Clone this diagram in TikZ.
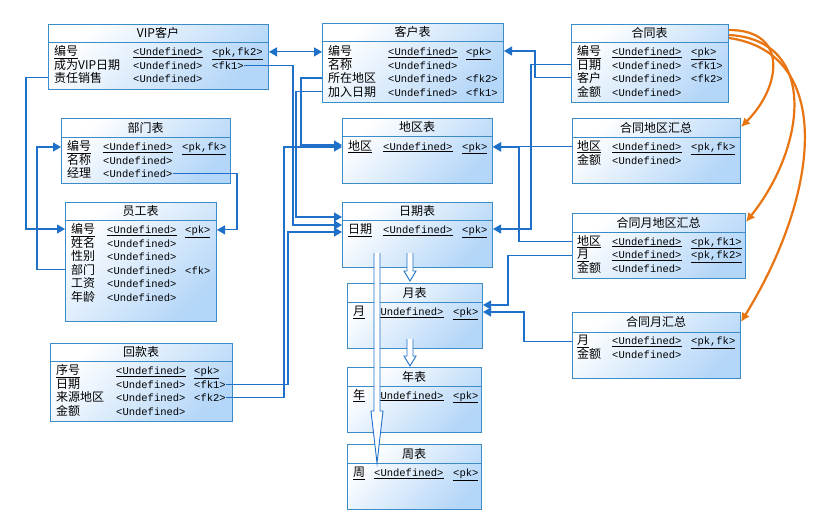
\documentclass[tikz,border=0pt]{standalone}
\usepackage{fontspec}
\setmonofont{Liberation Mono}
\newfontfamily\cjk{Noto Sans CJK SC}
\usetikzlibrary{arrows.meta,calc}
\definecolor{boxline}{RGB}{60,140,200}
\definecolor{boxfill}{RGB}{180,214,248}
\definecolor{linkblue}{RGB}{30,112,200}
\definecolor{linkorange}{RGB}{232,116,18}
\tikzstyle{tbl}=[draw=boxline,line width=1pt,top color=white,bottom color=boxfill,shading angle=45,anchor=north west,inner sep=0pt]
\tikzstyle{ttl}=[inner sep=0pt,font=\cjk\fontsize{12}{14}\selectfont]
\tikzstyle{fname}=[anchor=base west,inner sep=0pt,font=\cjk\fontsize{12}{14}\selectfont]
\tikzstyle{ftype}=[anchor=base west,inner sep=0pt,font=\ttfamily\fontsize{10.5}{12}\selectfont]
\tikzstyle{sepline}=[draw=boxline,line width=1pt]
\tikzstyle{fk}=[draw=linkblue,line width=1.1pt,-{Triangle[length=8pt,width=9pt]}]
\tikzstyle{sub}=[draw=linkorange,line width=2.2pt,-{Latex[length=9pt,width=9pt]}]
\tikzstyle{gen}=[draw=linkblue,line width=0.9pt,fill=white]
\newcommand{\inharrow}[3]{%
  \draw[gen] ([xshift=-3pt]#1) -- ([xshift=-3pt,yshift=#3]#2) -- ([xshift=-6pt,yshift=#3]#2) -- (#2)
    -- ([xshift=6pt,yshift=#3]#2) -- ([xshift=3pt,yshift=#3]#2) -- ([xshift=3pt]#1);}

\begin{document}
\begin{tikzpicture}[x=1pt,y=-1pt]
\useasboundingbox (0,0) rectangle (828,523);

% VIP customers
\node[tbl,minimum width=220,minimum height=65] (vip) at (48,24) {};
\draw[sepline] ([yshift=-18pt]vip.north west) -- ([yshift=-18pt]vip.north east);
\node[ttl] (vipt) at (158,33) {VIP客户};
\node[fname] (vipa1) at (54,55.5) {\underline{编号}};
\node[ftype] (vipb1) at (133,55.5) {\underline{<Undefined>}};
\node[ftype] (vipc1) at (212,55.5) {\underline{<pk,fk2>}};
\node[fname] (vipa2) at (54,69) {成为VIP日期};
\node[ftype] (vipb2) at (133,69) {<Undefined>};
\node[ftype] (vipc2) at (212,69) {<fk1>};
\node[fname] (vipa3) at (54,82.5) {责任销售};
\node[ftype] (vipb3) at (133,82.5) {<Undefined>};

% customers
\node[tbl,minimum width=181,minimum height=79] (cus) at (322,23) {};
\draw[sepline] ([yshift=-18pt]cus.north west) -- ([yshift=-18pt]cus.north east);
\node[ttl] (cust) at (412.5,32) {客户表};
\node[fname] (cusa1) at (328,55.5) {\underline{编号}};
\node[ftype] (cusb1) at (388,55.5) {\underline{<Undefined>}};
\node[ftype] (cusc1) at (466,55.5) {\underline{<pk>}};
\node[fname] (cusa2) at (328,69) {名称};
\node[ftype] (cusb2) at (388,69) {<Undefined>};
\node[fname] (cusa3) at (328,82.5) {所在地区};
\node[ftype] (cusb3) at (388,82.5) {<Undefined>};
\node[ftype] (cusc3) at (466,82.5) {<fk2>};
\node[fname] (cusa4) at (328,96) {加入日期};
\node[ftype] (cusb4) at (388,96) {<Undefined>};
\node[ftype] (cusc4) at (466,96) {<fk1>};

% contracts
\node[tbl,minimum width=157,minimum height=78] (con) at (571,24) {};
\draw[sepline] ([yshift=-18pt]con.north west) -- ([yshift=-18pt]con.north east);
\node[ttl] (cont) at (649.5,33) {合同表};
\node[fname] (cona1) at (577,55.5) {\underline{编号}};
\node[ftype] (conb1) at (612,55.5) {\underline{<Undefined>}};
\node[ftype] (conc1) at (691,55.5) {\underline{<pk>}};
\node[fname] (cona2) at (577,69) {日期};
\node[ftype] (conb2) at (612,69) {<Undefined>};
\node[ftype] (conc2) at (691,69) {<fk1>};
\node[fname] (cona3) at (577,82.5) {客户};
\node[ftype] (conb3) at (612,82.5) {<Undefined>};
\node[ftype] (conc3) at (691,82.5) {<fk2>};
\node[fname] (cona4) at (577,96) {金额};
\node[ftype] (conb4) at (612,96) {<Undefined>};

% departments
\node[tbl,minimum width=169,minimum height=65] (dep) at (61,118) {};
\draw[sepline] ([yshift=-19pt]dep.north west) -- ([yshift=-19pt]dep.north east);
\node[ttl] (dept) at (145.5,127.5) {部门表};
\node[fname] (depa1) at (67,150.5) {\underline{编号}};
\node[ftype] (depb1) at (103,150.5) {\underline{<Undefined>}};
\node[ftype] (depc1) at (182,150.5) {\underline{<pk,fk>}};
\node[fname] (depa2) at (67,164) {名称};
\node[ftype] (depb2) at (103,164) {<Undefined>};
\node[fname] (depa3) at (67,177.5) {经理};
\node[ftype] (depb3) at (103,177.5) {<Undefined>};

% employees
\node[tbl,minimum width=151,minimum height=119] (emp) at (65,202) {};
\draw[sepline] ([yshift=-18pt]emp.north west) -- ([yshift=-18pt]emp.north east);
\node[ttl] (empt) at (140.5,211) {员工表};
\node[fname] (empa1) at (71,233.5) {\underline{编号}};
\node[ftype] (empb1) at (107,233.5) {\underline{<Undefined>}};
\node[ftype] (empc1) at (185,233.5) {\underline{<pk>}};
\node[fname] (empa2) at (71,247) {姓名};
\node[ftype] (empb2) at (107,247) {<Undefined>};
\node[fname] (empa3) at (71,260.5) {性别};
\node[ftype] (empb3) at (107,260.5) {<Undefined>};
\node[fname] (empa4) at (71,274) {部门};
\node[ftype] (empb4) at (107,274) {<Undefined>};
\node[ftype] (empc4) at (185,274) {<fk>};
\node[fname] (empa5) at (71,287.5) {工资};
\node[ftype] (empb5) at (107,287.5) {<Undefined>};
\node[fname] (empa6) at (71,301) {年龄};
\node[ftype] (empb6) at (107,301) {<Undefined>};

% regions
\node[tbl,minimum width=150,minimum height=65] (reg) at (342,118) {};
\draw[sepline] ([yshift=-18pt]reg.north west) -- ([yshift=-18pt]reg.north east);
\node[ttl] (regt) at (417,127) {地区表};
\node[fname] (rega1) at (348,150) {\underline{地区}};
\node[ftype] (regb1) at (383,150) {\underline{<Undefined>}};
\node[ftype] (regc1) at (462,150) {\underline{<pk>}};

% dates
\node[tbl,minimum width=150,minimum height=65] (day) at (342,202) {};
\draw[sepline] ([yshift=-18pt]day.north west) -- ([yshift=-18pt]day.north east);
\node[ttl] (dayt) at (417,211) {日期表};
\node[fname] (daya1) at (348,233.5) {\underline{日期}};
\node[ftype] (dayb1) at (383,233.5) {\underline{<Undefined>}};
\node[ftype] (dayc1) at (462,233.5) {\underline{<pk>}};

% months, years, weeks
\node[tbl,minimum width=135,minimum height=65] (mon) at (347,283) {};
\draw[sepline] ([yshift=-19pt]mon.north west) -- ([yshift=-19pt]mon.north east);
\node[ttl] (mont) at (414.5,292.5) {月表};
\node[fname] (mona1) at (353,315.5) {\underline{月}};
\node[ftype] (monb1) at (374,315.5) {\underline{<Undefined>}};
\node[ftype] (monc1) at (453,315.5) {\underline{<pk>}};

\node[tbl,minimum width=134,minimum height=65] (yr) at (347,367) {};
\draw[sepline] ([yshift=-19pt]yr.north west) -- ([yshift=-19pt]yr.north east);
\node[ttl] (yrt) at (414,376.5) {年表};
\node[fname] (yra1) at (353,399) {\underline{年}};
\node[ftype] (yrb1) at (374,399) {\underline{<Undefined>}};
\node[ftype] (yrc1) at (453,399) {\underline{<pk>}};

\node[tbl,minimum width=134,minimum height=65] (wk) at (347,444) {};
\draw[sepline] ([yshift=-19pt]wk.north west) -- ([yshift=-19pt]wk.north east);
\node[ttl] (wkt) at (414,453.5) {周表};
\node[fname] (wka1) at (353,476.5) {\underline{周}};
\node[ftype] (wkb1) at (374,476.5) {\underline{<Undefined>}};
\node[ftype] (wkc1) at (453,476.5) {\underline{<pk>}};

% payments
\node[tbl,minimum width=182,minimum height=78] (pay) at (50,343) {};
\draw[sepline] ([yshift=-18pt]pay.north west) -- ([yshift=-18pt]pay.north east);
\node[ttl] (payt) at (141,352) {回款表};
\node[fname] (paya1) at (56,374.5) {\underline{序号}};
\node[ftype] (payb1) at (116,374.5) {\underline{<Undefined>}};
\node[ftype] (payc1) at (194,374.5) {\underline{<pk>}};
\node[fname] (paya2) at (56,388) {日期};
\node[ftype] (payb2) at (116,388) {<Undefined>};
\node[ftype] (payc2) at (194,388) {<fk1>};
\node[fname] (paya3) at (56,401.5) {来源地区};
\node[ftype] (payb3) at (116,401.5) {<Undefined>};
\node[ftype] (payc3) at (194,401.5) {<fk2>};
\node[fname] (paya4) at (56,415) {金额};
\node[ftype] (payb4) at (116,415) {<Undefined>};

% contract summaries
\node[tbl,minimum width=168,minimum height=65] (cra) at (572,118) {};
\draw[sepline] ([yshift=-19pt]cra.north west) -- ([yshift=-19pt]cra.north east);
\node[ttl] (crat) at (656,127.5) {合同地区汇总};
\node[fname] (craa1) at (577,150.5) {\underline{地区}};
\node[ftype] (crab1) at (612,150.5) {\underline{<Undefined>}};
\node[ftype] (crac1) at (691,150.5) {\underline{<pk,fk>}};
\node[fname] (craa2) at (577,164) {金额};
\node[ftype] (crab2) at (612,164) {<Undefined>};

\node[tbl,minimum width=173,minimum height=65] (cmra) at (572,213) {};
\draw[sepline] ([yshift=-19pt]cmra.north west) -- ([yshift=-19pt]cmra.north east);
\node[ttl] (cmrat) at (658.5,222.5) {合同月地区汇总};
\node[fname] (cmraa1) at (577,245) {\underline{地区}};
\node[ftype] (cmrab1) at (612,245) {\underline{<Undefined>}};
\node[ftype] (cmrac1) at (691,245) {\underline{<pk,fk1>}};
\node[fname] (cmraa2) at (577,258.5) {\underline{月}};
\node[ftype] (cmrab2) at (612,258.5) {\underline{<Undefined>}};
\node[ftype] (cmrac2) at (691,258.5) {\underline{<pk,fk2>}};
\node[fname] (cmraa3) at (577,272) {金额};
\node[ftype] (cmrab3) at (612,272) {<Undefined>};

\node[tbl,minimum width=168,minimum height=66] (cma) at (572,312) {};
\draw[sepline] ([yshift=-20pt]cma.north west) -- ([yshift=-20pt]cma.north east);
\node[ttl] (cmat) at (656,322) {合同月汇总};
\node[fname] (cmaa1) at (577,344.5) {\underline{月}};
\node[ftype] (cmab1) at (612,344.5) {\underline{<Undefined>}};
\node[ftype] (cmac1) at (691,344.5) {\underline{<pk,fk>}};
\node[fname] (cmaa2) at (577,358) {金额};
\node[ftype] (cmab2) at (612,358) {<Undefined>};

% bends of the references
\coordinate (j1) at (293,225);
\coordinate (j2) at (301,145);
\coordinate (j3) at (296,217);
\coordinate (j4) at (288,232);
\coordinate (j5) at (284,147);
\coordinate (j6) at (26,229);
\coordinate (j7) at (37,147);
\coordinate (j8) at (237,200);
\coordinate (j9) at (531,229);
\coordinate (j10) at (535,51);
\coordinate (j11) at (519,147);
\coordinate (j12) at (508,305);
\coordinate (j13) at (524,312);

\draw[fk,{Triangle[length=8pt,width=9pt]}-{Triangle[length=8pt,width=9pt]}] (vip.east |- vipa1) -- (cus.west |- cusa1);
\draw[fk] (vipc2.east) -| (j1) -- (day.west |- j1);
\draw[fk] (cus.west |- cusa3) -| (j2) -- (reg.west |- j2);
\draw[fk] (cus.west |- cusa4) -| (j3) -- (day.west |- j3);
\draw[fk] (payc2.east) -| (j4) -- (day.west |- j4);
\draw[fk] (payc3.east) -| (j5) -- (reg.west |- j5);
\draw[fk] (vip.west |- vipa3) -| (j6) -- (emp.west |- j6);
\draw[fk] (emp.west |- empa4) -| (j7) -- (dep.west |- j7);
\draw[fk] (depb3.east) -| (j8) |- (emp.east |- empa1);
\draw[fk] (con.west |- cona2) -| (j9) -- (day.east |- j9);
\draw[fk] (con.west |- cona3) -| (j10) -- (cus.east |- j10);
\draw[fk] (cra.west |- craa1) -- (reg.east |- craa1);
\draw[fk] (cmra.west |- cmraa1) -| (j11) -- (reg.east |- j11);
\draw[fk] (cmra.west |- cmraa2) -| (j12) -- (mon.east |- j12);
\draw[fk] (cma.west |- cmaa1) -| (j13) -- (mon.east |- j13);

% summaries of the contracts
\draw[sub] ([yshift=-6pt]con.north east) .. controls +(60,0) and +(40,-40) .. ([yshift=-9pt]cra.north east);
\draw[sub] ([yshift=-11pt]con.north east) .. controls +(90,5) and +(60,-75) .. ([yshift=-9pt]cmra.north east);
\draw[sub] ([yshift=-14pt]con.north east) .. controls +(105,15) and +(80,-130) .. ([yshift=-10pt]cma.north east);

% inheritance
\coordinate (g1) at (410,253);
\coordinate (t1) at (410,281);
\coordinate (g2) at (410,339);
\coordinate (t2) at (410,366);
\coordinate (g3) at (377,253);
\coordinate (t3) at (377,463);
\inharrow{g1}{t1}{10pt}
\inharrow{g2}{t2}{10pt}
\inharrow{g3}{t3}{52pt}
\end{tikzpicture}
\end{document}
